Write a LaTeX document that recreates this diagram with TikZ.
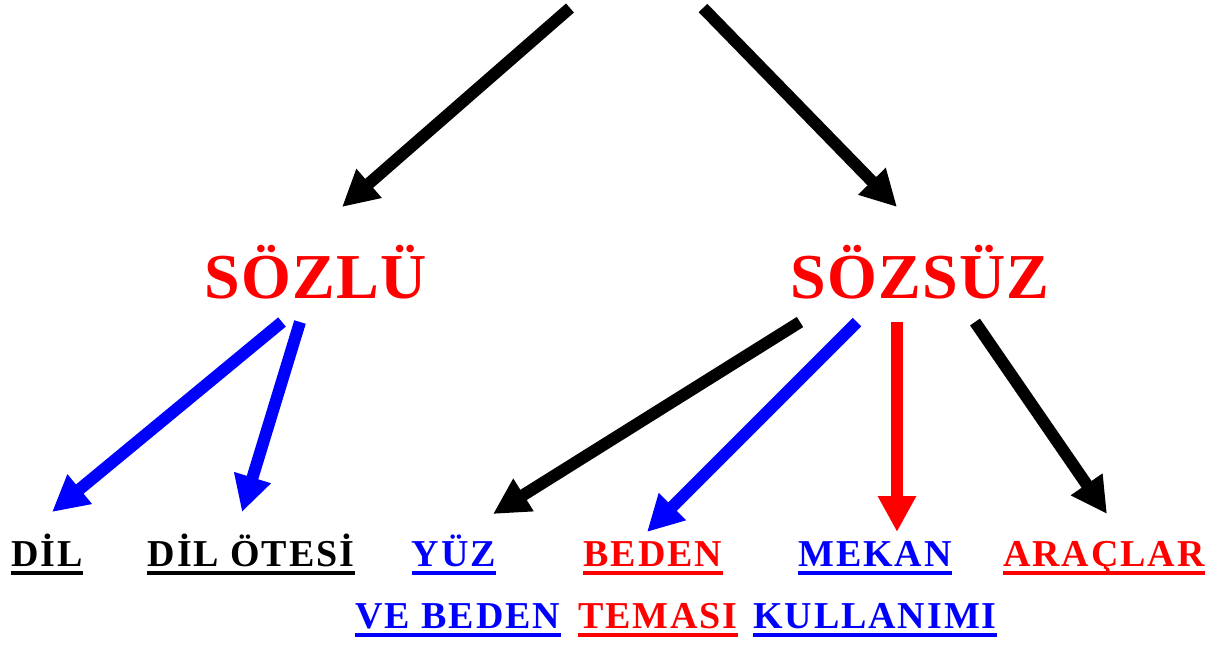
\documentclass[tikz,border=0pt]{standalone}
\usepackage{fontspec}
\setmainfont{Liberation Serif}
\usetikzlibrary{arrows.meta}
\begin{document}
\begin{tikzpicture}[x=0.5pt,y=-0.5pt,
head/.style={font=\bfseries\fontsize{32}{38}\selectfont\addfontfeature{LetterSpace=2},text=red,inner sep=0pt,anchor=base},
leaf/.style={font=\bfseries\fontsize{19}{23}\selectfont\addfontfeature{LetterSpace=5},inner sep=0pt,anchor=base},
arr/.style={line width=6pt,-{Triangle[length=18pt,width=18pt]}}
]
\useasboundingbox[fill=white] (0,0) rectangle (1228,645);
% upper level
\coordinate (t1) at (570,8);
\coordinate (t2) at (703,8);
\node[head] (sozlu) at (316,298) {SÖZLÜ};
\node[head] (sozsuz) at (920,298) {SÖZSÜZ};
% lower level
\node[leaf] (dil) at (47,566) {DİL};
\node[leaf] (otesi) at (251,566) {DİL ÖTESİ};
\node[leaf,text=blue] (yuz) at (454,566) {YÜZ};
\node[leaf,text=red] (beden) at (653,566) {BEDEN};
\node[leaf,text=blue] (mekan) at (875,566) {MEKAN};
\node[leaf,text=red] (arac) at (1104,566) {ARAÇLAR};
\node[leaf,text=blue] (vebeden) at (458,628) {VE BEDEN};
\node[leaf,text=red] (temasi) at (658,628) {TEMASI};
\node[leaf,text=blue] (kullanim) at (875,628) {KULLANIMI};
\foreach \n/\c in {dil/black,otesi/black,yuz/blue,beden/red,mekan/blue,arac/red,vebeden/blue,temasi/red,kullanim/blue}
  \draw[\c,line width=2pt] ([yshift=-3.5pt]\n.base west) -- ([yshift=-3.5pt]\n.base east);
% arrows
\draw[arr] (t1) -- ([shift={(26,-91)}]sozlu.base);
\draw[arr] (t2) -- ([shift={(-23,-91)}]sozsuz.base);
\draw[arr,blue] ([shift={(-34,24)}]sozlu.base) -- ([shift={(5,-54)}]dil.base);
\draw[arr,blue] ([shift={(-16,24)}]sozlu.base) -- ([shift={(-9,-54)}]otesi.base);
\draw[arr] ([shift={(-120,24)}]sozsuz.base) -- ([shift={(39,-52)}]yuz.base);
\draw[arr,blue] ([shift={(-63,24)}]sozsuz.base) -- ([shift={(-6,-34)}]beden.base);
\draw[arr,red] ([shift={(-23,24)}]sozsuz.base) -- ([shift={(22,-34)}]mekan.base);
\draw[arr] ([shift={(55,24)}]sozsuz.base) -- ([shift={(3,-52)}]arac.base);
\end{tikzpicture}
\end{document}
